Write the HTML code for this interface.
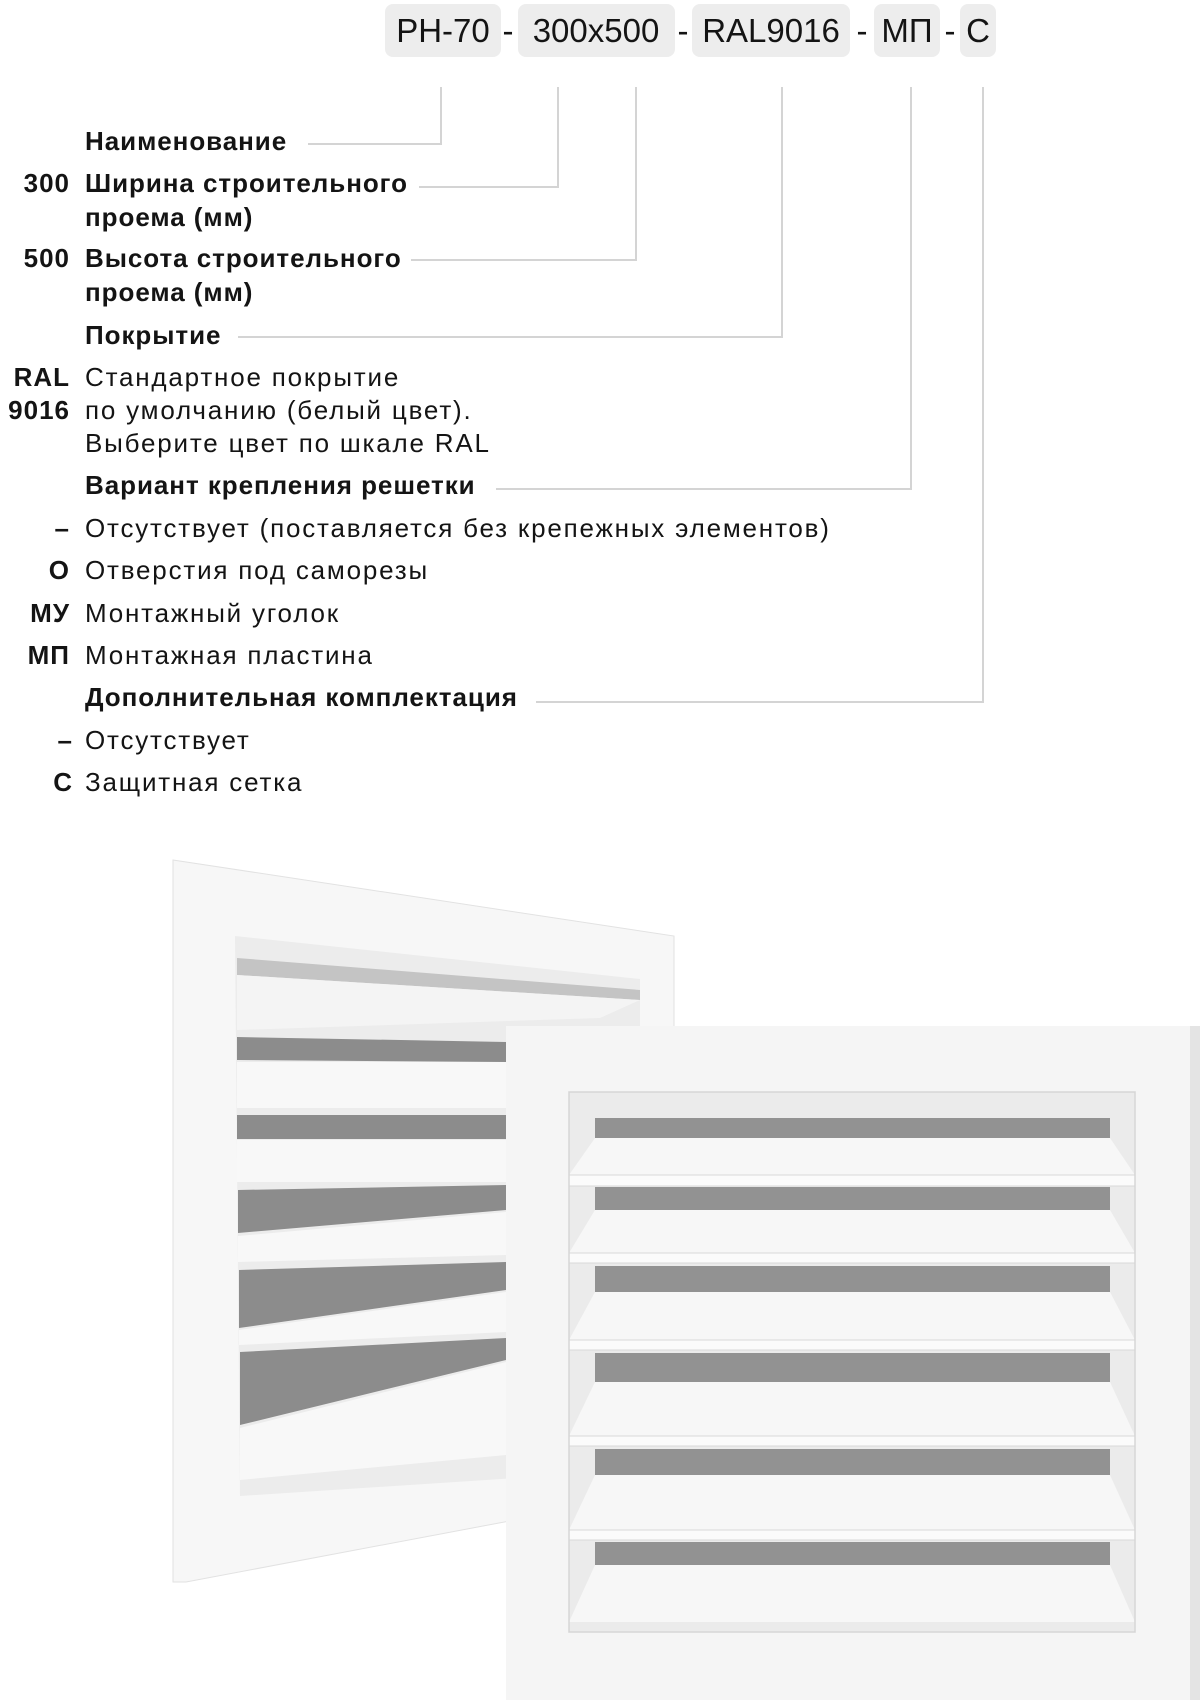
<!DOCTYPE html>
<html><head><meta charset="utf-8"><style>
html,body{margin:0;padding:0;background:#fff;}
svg{display:block}
text{font-family:"Liberation Sans","Noto Sans CJK SC",sans-serif;fill:#141414;}
.b{font-weight:bold;}
</style></head><body>
<svg width="1200" height="1700" viewBox="0 0 1200 1700" xmlns="http://www.w3.org/2000/svg">
<g fill="#ededed">
<rect x="385" y="4" width="116" height="53" rx="8"/>
<rect x="518" y="4" width="157" height="53" rx="8"/>
<rect x="692" y="4" width="158" height="53" rx="8"/>
<rect x="874" y="4" width="66" height="53" rx="8"/>
<rect x="960" y="4" width="36" height="53" rx="8"/>
</g>
<g font-size="33" text-anchor="middle">
<text x="443" y="42">РН-70</text>
<text x="508" y="42">-</text>
<text x="596" y="42">300x500</text>
<text x="683" y="42">-</text>
<text x="771" y="42">RAL9016</text>
<text x="862" y="42">-</text>
<text x="907" y="42">МП</text>
<text x="950" y="42">-</text>
<text x="978" y="42">С</text>
</g>
<g fill="none" stroke="#d4d4d4" stroke-width="2">
<polyline points="441,87 441,144 308,144"/>
<polyline points="558,87 558,187 419,187"/>
<polyline points="636,87 636,260 411,260"/>
<polyline points="782,87 782,337 238,337"/>
<polyline points="911,87 911,489 496,489"/>
<polyline points="983,87 983,702 536,702"/>
</g>
<g font-size="26" letter-spacing="0.95" font-weight="bold">
<text x="85" y="150">Наименование</text>
<text x="85" y="192">Ширина строительного</text>
<text x="85" y="226">проема (мм)</text>
<text x="85" y="267">Высота строительного</text>
<text x="85" y="301">проема (мм)</text>
<text x="85" y="344">Покрытие</text>
<text x="85" y="494">Вариант крепления решетки</text>
<text x="85" y="706">Дополнительная комплектация</text>
</g>
<g font-size="26" letter-spacing="1.8">
<text x="85" y="386">Стандартное покрытие</text>
<text x="85" y="419">по умолчанию (белый цвет).</text>
<text x="85" y="452">Выберите цвет по шкале RAL</text>
<text x="85" y="537">Отсутствует (поставляется без крепежных элементов)</text>
<text x="85" y="579">Отверстия под саморезы</text>
<text x="85" y="622">Монтажный уголок</text>
<text x="85" y="664">Монтажная пластина</text>
<text x="85" y="749">Отсутствует</text>
<text x="85" y="791">Защитная сетка</text>
</g>
<g font-size="26" letter-spacing="1" text-anchor="end" font-weight="bold">
<text x="70" y="192">300</text>
<text x="70" y="267">500</text>
<text x="70" y="386">RAL</text>
<text x="70" y="419">9016</text>
<text x="70" y="537">–</text>
<text x="70" y="579">О</text>
<text x="70" y="622">МУ</text>
<text x="70" y="664">МП</text>
<text x="73" y="749">–</text>
<text x="73" y="791">С</text>
</g>
<polygon points="173,860 674,936 674,1490 186,1582 173,1582" fill="#f7f7f7" stroke="#e2e2e2"/>
<polygon points="235,936 640,979 640,1470 240,1496" fill="#ececec"/>
<polygon points="237,958 640,990 640,1000 237,975" fill="#c4c4c4"/>
<polygon points="237,975 640,1000 600,1018 237,1030" fill="#f4f4f4"/>
<g fill="#8c8c8c">
<polygon points="237,1037 506,1042 506,1062 237,1060"/>
<polygon points="237,1115 506,1115 506,1139 237,1139"/>
<polygon points="238,1190 506,1185 506,1210 238,1233"/>
<polygon points="239,1270 506,1262 506,1290 239,1328"/>
<polygon points="240,1352 506,1338 506,1360 240,1425"/>
</g>
<g fill="#f8f8f8">
<polygon points="237,1062 506,1062 506,1108 237,1108"/>
<polygon points="237,1140 506,1140 506,1182 237,1182"/>
<polygon points="238,1236 506,1212 506,1255 238,1262"/>
<polygon points="239,1330 506,1292 506,1332 239,1345"/>
<polygon points="240,1428 506,1362 506,1455 240,1480"/>
</g>
<rect x="506" y="1026" width="694" height="674" fill="#f5f5f5"/>
<rect x="1190" y="1026" width="10" height="674" fill="#e4e4e4"/>
<rect x="569" y="1092" width="566" height="540" fill="#ebebeb"/>
<g fill="#929292">
<rect x="595" y="1118" width="515" height="20"/>
<rect x="595" y="1187" width="515" height="23"/>
<rect x="595" y="1266" width="515" height="26"/>
<rect x="595" y="1353" width="515" height="29"/>
<rect x="595" y="1449" width="515" height="26"/>
<rect x="595" y="1542" width="515" height="23"/>
</g>
<g fill="#f7f7f7">
<polygon points="595,1138 1110,1138 1135,1175 569,1175"/>
<polygon points="595,1210 1110,1210 1135,1253 569,1253"/>
<polygon points="595,1292 1110,1292 1135,1340 569,1340"/>
<polygon points="595,1382 1110,1382 1135,1436 569,1436"/>
<polygon points="595,1475 1110,1475 1135,1530 569,1530"/>
<polygon points="595,1565 1110,1565 1135,1622 569,1622"/>
</g>
<g fill="#fbfbfb" stroke="#d8d8d8" stroke-width="1">
<rect x="569" y="1175" width="566" height="11"/>
<rect x="569" y="1253" width="566" height="10"/>
<rect x="569" y="1340" width="566" height="10"/>
<rect x="569" y="1436" width="566" height="10"/>
<rect x="569" y="1530" width="566" height="10"/>
</g>
<rect x="569" y="1092" width="566" height="540" fill="none" stroke="#d6d6d6" stroke-width="1.5"/>
</svg>
</body></html>
